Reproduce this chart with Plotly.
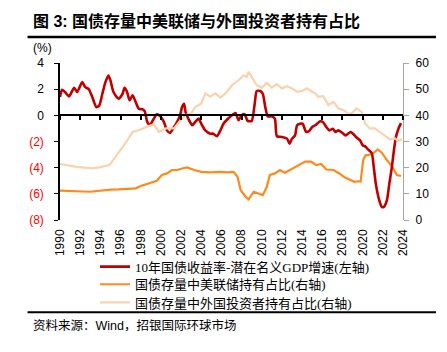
import plotly.graph_objects as go

# ---------------- data ----------------
years_red = [1990.0, 1990.2, 1990.5, 1990.9, 1991.4, 1991.7, 1992.2, 1992.5, 1992.85, 1993.2,
             1993.6, 1993.9, 1994.2, 1994.5, 1994.8, 1995.0, 1995.3, 1995.8, 1996.2, 1996.4,
             1996.65, 1996.9, 1997.2, 1997.5, 1997.8, 1998.2, 1998.4, 1998.65, 1998.9, 1999.3,
             1999.6, 1999.95, 2000.3, 2000.6, 2000.9, 2001.3, 2001.6, 2001.9, 2002.1, 2002.3,
             2002.45, 2002.8, 2003.1, 2003.4, 2003.75, 2004.0, 2004.4, 2004.9, 2005.2, 2005.55,
             2005.9, 2006.2, 2006.6, 2007.05, 2007.4, 2007.7, 2008.0, 2008.3, 2008.6, 2009.0,
             2009.3, 2009.5, 2009.85, 2010.1, 2010.35, 2010.6, 2011.0, 2011.3, 2011.5, 2012.0,
             2012.5, 2012.75, 2013.0, 2013.3, 2013.5, 2013.8, 2014.05, 2014.4, 2014.7, 2015.0,
             2015.3, 2015.8, 2016.06, 2016.4, 2016.7, 2017.05, 2017.3, 2017.6, 2018.0, 2018.3,
             2018.8, 2019.1, 2019.4, 2019.75, 2020.0, 2020.25, 2020.55, 2020.9, 2021.1, 2021.3,
             2021.65, 2021.9, 2022.1, 2022.4, 2022.65, 2022.9, 2023.1, 2023.3, 2023.55, 2023.8]
spread = [1.40, 1.96, 1.78, 1.45, 2.11, 1.78, 2.54, 2.16, 2.00, 1.40,
          0.63, 0.76, 1.65, 2.54, 3.05, 2.67, 1.78, 1.27, 1.65, 2.11,
          1.78, 1.15, 1.53, 1.02, 0.51, 0.45, 0.30, -0.50, -0.76, -0.25,
          0.08, -0.08, -0.51, -1.15, -1.35, -0.89, -0.51, 0.00, 0.63, 0.89,
          0.25, -0.38, -0.76, -0.51, -0.25, -0.64, -1.15, -1.40, -1.40, -1.60,
          -1.15, -0.64, -0.30, 0.00, 0.18, -0.38, 0.00, 0.08, -0.43, -0.43,
          0.89, 1.86, 1.86, 1.65, 0.63, -0.08, -0.08, -0.25, -1.60, -1.65,
          -1.78, -2.16, -1.78, -1.53, -0.76, -0.64, -0.64, -1.27, -1.20, -0.89,
          -0.76, -0.46, -0.51, -0.89, -1.15, -1.02, -1.27, -1.15, -1.35, -1.53,
          -1.27, -1.45, -1.70, -1.91, -2.29, -2.37, -2.62, -2.88, -3.94, -5.20,
          -6.50, -7.00, -7.00, -6.50, -5.20, -3.94, -2.67, -1.65, -1.02, -0.60]

years_fed = [1990.0, 1990.8, 1991.5, 1992.3, 1993.0, 1994.0, 1995.0, 1995.8, 1996.7, 1997.5,
             1998.0, 1998.5, 1998.9, 1999.6, 2000.1, 2000.6, 2001.1, 2001.6, 2002.1, 2002.6,
             2003.3, 2004.0, 2004.9, 2005.9, 2006.6, 2007.2, 2007.6, 2007.9, 2008.4, 2008.7,
             2009.2, 2009.7, 2010.1, 2010.5, 2010.8, 2011.3, 2011.8, 2012.3, 2013.1, 2013.6,
             2014.3, 2014.9, 2015.4, 2015.9, 2016.4, 2017.1, 2017.7, 2018.2, 2018.7, 2019.2,
             2019.55, 2019.8, 2020.05, 2020.3, 2020.55, 2021.0, 2021.5, 2021.9, 2022.4, 2022.9,
             2023.4, 2023.8]
fed_share = [11.2, 11.0, 11.0, 10.9, 10.8, 11.3, 11.6, 11.7, 11.8, 12.1,
             13.0, 13.7, 14.2, 15.0, 17.2, 17.8, 19.1, 19.1, 19.7, 20.1,
             19.1, 18.4, 18.2, 18.4, 18.2, 18.4, 16.5, 11.5, 8.9, 7.9,
             10.8, 10.2, 9.5, 12.7, 17.2, 17.8, 19.1, 18.1, 19.7, 21.0,
             22.3, 22.3, 21.0, 21.4, 19.3, 19.1, 17.8, 16.3, 15.3, 14.6,
             14.8, 14.7, 22.9, 24.8, 24.8, 25.4, 27.0, 25.7, 22.9, 20.6,
             17.2, 16.8]

years_foreign = [1990.0, 1991.5, 1993.2, 1993.9, 1994.9, 1995.4, 1995.9, 1996.6, 1997.2, 1997.9,
                 1998.6, 1999.3, 1999.8, 2000.5, 2001.3, 2001.8, 2002.45, 2003.0, 2003.4, 2004.0,
                 2004.4, 2004.9, 2005.4, 2005.9, 2006.4, 2007.05, 2007.7, 2008.2, 2008.5, 2008.7,
                 2009.0, 2009.5, 2010.0, 2010.5, 2011.0, 2011.5, 2012.0, 2012.5, 2013.0, 2013.5,
                 2014.0, 2014.5, 2015.0, 2015.3, 2015.6, 2016.1, 2016.6, 2017.1, 2017.6, 2018.1,
                 2018.6, 2018.95, 2019.4, 2019.9, 2020.25, 2020.7, 2021.2, 2021.7, 2022.2, 2022.7,
                 2023.2, 2023.5, 2023.9]
foreign_share = [21.4, 20.4, 19.7, 20.1, 21.0, 23.5, 26.1, 29.9, 33.7, 34.4,
                 35.6, 36.6, 33.7, 35.0, 35.0, 37.5, 40.1, 40.7, 43.2, 44.5,
                 48.4, 47.1, 48.4, 46.8, 48.4, 51.5, 53.4, 55.3, 54.7, 56.6,
                 54.7, 51.5, 50.6, 52.4, 50.6, 51.9, 50.3, 51.1, 50.3, 49.0,
                 49.4, 50.3, 49.0, 48.4, 47.1, 47.3, 43.9, 45.2, 42.6, 42.0,
                 40.5, 40.9, 42.6, 41.3, 36.9, 35.0, 35.0, 33.7, 32.1, 30.8,
                 31.2, 30.3, 30.8]

x_tick_years = list(range(1990, 2025, 2))
x_tick_labels = [str(y) for y in x_tick_years]
left_ticks = [-8, -6, -4, -2, 0, 2, 4]
left_tick_labels = ["(8)", "(6)", "(4)", "(2)", "0", "2", "4"]
right_ticks = [0, 10, 20, 30, 40, 50, 60]
right_tick_labels = ["0", "10", "20", "30", "40", "50", "60"]

names = ["10年国债收益率-潜在名义GDP增速(左轴)",
         "国债存量中美联储持有占比(右轴)",
         "国债存量中外国投资者持有占比(右轴)"]
title_text = "图 3: 国债存量中美联储与外国投资者持有占比"
unit_text = "(%)"
source_text = "资料来源：Wind，招银国际环球市场"

# ---------------- layout geometry ----------------
W, H = 447, 352
L, R, T, B = 59.5, 403.0, 62.6, 220.0


def px2x(px):
    return (px - L) / (R - L)


def py2y(py):
    return (B - py) / (B - T)


RED = "#C00000"
ORANGE = "#FF8A1C"
PALE = "#FAD2AE"
TICKFONT = dict(family="Liberation Sans, Arial, sans-serif", size=12, color="black")
LEGFONT = dict(family="Liberation Serif, Noto Sans CJK SC, serif", size=13, color="black")

left_colored = [
    ("<span style='color:#FF0000'>%s</span>" % t) if v < 0 else t
    for v, t in zip(left_ticks, left_tick_labels)
]

fig = go.Figure()
fig.add_trace(go.Scatter(x=years_fed, y=fed_share, name=names[1], mode="lines",
                         line=dict(color=ORANGE, width=2.2), xaxis="x", yaxis="y",
                         legend="legend2", hoverinfo="skip"))
fig.add_trace(go.Scatter(x=years_foreign, y=foreign_share, name=names[2], mode="lines",
                         line=dict(color=PALE, width=2.2), xaxis="x2", yaxis="y",
                         legend="legend3", hoverinfo="skip"))
fig.add_trace(go.Scatter(x=years_red, y=spread, name=names[0], mode="lines",
                         line=dict(color=RED, width=2.6, shape="spline", smoothing=0.6),
                         xaxis="x", yaxis="y2", legend="legend", hoverinfo="skip"))


def leg(center_py):
    return dict(xref="container", yref="container", x=95 / W, y=1 - center_py / H,
                xanchor="left", yanchor="middle", bgcolor="rgba(0,0,0,0)", font=LEGFONT)


fig.update_layout(
    width=W, height=H,
    margin=dict(l=L, r=W - R, t=T, b=H - B, autoexpand=False),
    paper_bgcolor="white", plot_bgcolor="white",
    showlegend=True,
    xaxis=dict(range=[1990, 2024], tickvals=x_tick_years, ticktext=x_tick_labels,
               tickangle=-90, showline=False, ticks="", showgrid=False, zeroline=False,
               tickfont=TICKFONT, ticklabelstandoff=6),
    xaxis2=dict(overlaying="x", matches="x", anchor="free", position=8 / 12,
                range=[1990, 2024], tickvals=x_tick_years, showticklabels=False,
                showline=True, linecolor="black", linewidth=2, ticks="outside",
                ticklen=4, tickwidth=1.5, tickcolor="black", showgrid=False, zeroline=False),
    yaxis=dict(side="right", range=[0, 60], tickvals=right_ticks, ticktext=right_tick_labels,
               showline=True, linecolor="#A6A6A6", linewidth=1.2, ticks="outside",
               ticklen=5, tickcolor="#A6A6A6", showgrid=False, zeroline=False,
               tickfont=TICKFONT, ticklabelstandoff=4),
    yaxis2=dict(overlaying="y", side="left", range=[-8, 4], tickvals=left_ticks,
                ticktext=left_colored, showline=True, linecolor="black", linewidth=1.5,
                ticks="outside", ticklen=4, tickcolor="black", showgrid=False,
                zeroline=False, tickfont=TICKFONT, ticklabelstandoff=8),
    legend=leg(266.7),
    legend2=leg(284.3),
    legend3=leg(302.5),
)

fig.add_annotation(text="<b>%s</b>" % title_text, xref="paper", yref="paper",
                   x=px2x(30), y=py2y(20), xanchor="left", yanchor="middle", showarrow=False,
                   font=dict(family="Liberation Sans, Noto Sans CJK SC, sans-serif", size=16,
                             color="black"))
fig.add_annotation(text=unit_text, xref="paper", yref="paper",
                   x=px2x(30), y=py2y(48), xanchor="left", yanchor="middle", showarrow=False,
                   font=dict(family="Liberation Sans, sans-serif", size=12, color="black"))
fig.add_annotation(text=source_text, xref="paper", yref="paper",
                   x=px2x(30), y=py2y(326), xanchor="left", yanchor="middle", showarrow=False,
                   font=dict(family="Liberation Sans, Noto Sans CJK SC, sans-serif", size=12.5,
                             color="black"))

fig.add_shape(type="line", xref="paper", yref="paper", x0=px2x(27), x1=px2x(436),
              y0=py2y(36.5), y1=py2y(36.5), line=dict(color="black", width=2.5))
fig.add_shape(type="line", xref="paper", yref="paper", x0=px2x(27), x1=px2x(436),
              y0=py2y(312.5), y1=py2y(312.5), line=dict(color="black", width=1.8))

fig.write_html("out.html")
